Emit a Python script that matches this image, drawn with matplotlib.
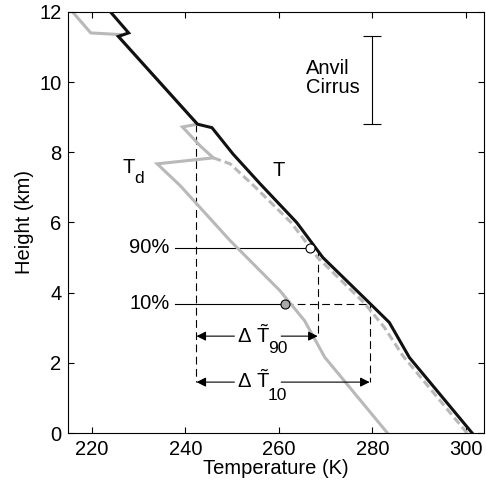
import matplotlib
matplotlib.use('Agg')
import matplotlib.pyplot as plt

plt.rcParams['font.family'] = ['Liberation Sans', 'DejaVu Sans']
plt.rcParams['mathtext.fontset'] = 'custom'
plt.rcParams['mathtext.rm'] = 'Liberation Sans'
plt.rcParams['mathtext.it'] = 'Liberation Sans'

# temperature profile T (K) vs height (km)
t_height = [0, 2.15, 3.15, 3.7, 5.0, 6.0, 7.1, 7.95, 8.7, 8.8, 11.3, 11.4, 12]
t_temp = [301.3, 287.9, 283.6, 279.4, 269.4, 263.8, 256.0, 250.2, 245.7, 242.6, 225.7, 227.9, 224.0]

# dew point Td
td_height = [0, 2.16, 3.2, 4.06, 5.48, 7.05, 7.67, 7.84, 8.18, 8.72, 8.8, 11.3, 11.35, 11.4, 12]
td_temp = [283.2, 269.8, 265.5, 260.2, 249.6, 238.9, 234.0, 246.0, 243.2, 239.4, 242.6, 225.7, 226.5, 219.8, 215.9]

# dashed reference profile
ad_height = [0, 2.2, 3.0, 3.7, 5.0, 6.0, 7.0, 7.67, 7.84]
ad_temp = [300.2, 286.5, 282.6, 278.3, 268.3, 262.6, 255.0, 249.6, 246.0]

# levels
cloud_base = 8.8
cloud_top = 11.3
t_base = 242.4
z90, t90_circle, t90 = 5.28, 266.6, 268.3
z10, t10_circle, t10 = 3.69, 261.3, 279.4
arrow90_z, arrow10_z = 2.76, 1.45

fs = 14.5
fig = plt.figure(figsize=(4.86, 4.88), dpi=100)
ax = fig.add_axes([0.1405, 0.1127, 0.855, 0.863])

gray = '#b9b9b9'
ax.plot(td_temp, td_height, color=gray, lw=2.2, zorder=2, solid_joinstyle='miter')
ax.plot(ad_temp, ad_height, color=gray, lw=2.2, dashes=(2.6, 1.3), zorder=2)
ax.plot(t_temp, t_height, color='#111111', lw=2.2, zorder=3, solid_joinstyle='miter')

dk = dict(color='k', lw=0.8, dashes=(7, 4), zorder=1)
ax.plot([t_base, t_base], [cloud_base, arrow10_z], **dk)
ax.plot([t90, t90], [5.15, arrow90_z], **dk)
ax.plot([t10, t10], [z10, arrow10_z], **dk)
ax.plot([t10_circle, t10], [z10, z10], **dk)

ax.plot([237.9, t90_circle], [z90, z90], color='k', lw=0.8, zorder=1)
ax.plot([237.9, t10_circle], [z10, z10], color='k', lw=0.8, zorder=1)
ax.plot([t90_circle], [z90], 'o', ms=6.5, mfc='white', mec='k', mew=0.8, zorder=4)
ax.plot([t10_circle], [z10], 'o', ms=6.5, mfc='#a8a8a8', mec='k', mew=0.8, zorder=4)

arr = dict(arrowstyle='-|>', lw=0.8, color='k', shrinkA=0, shrinkB=0, mutation_scale=14)
ax.annotate('', xy=(t_base, arrow90_z), xytext=(250.5, arrow90_z), arrowprops=arr)
ax.annotate('', xy=(t90, arrow90_z), xytext=(260.5, arrow90_z), arrowprops=arr)
ax.annotate('', xy=(t_base, arrow10_z), xytext=(250.5, arrow10_z), arrowprops=arr)
ax.annotate('', xy=(t10, arrow10_z), xytext=(260.5, arrow10_z), arrowprops=arr)
ax.text(251.0, arrow90_z - 0.2, r'$\Delta\ \tilde{\mathrm{T}}$', fontsize=fs, va='baseline')
ax.text(257.6, 2.27, '90', fontsize=12.5, va='baseline')
ax.text(251.0, arrow10_z - 0.17, r'$\Delta\ \tilde{\mathrm{T}}$', fontsize=fs, va='baseline')
ax.text(257.6, 0.94, '10', fontsize=12.5, va='baseline')

ax.text(236.7, z90, '90%', fontsize=fs, ha='right', va='center')
ax.text(236.7, z10, '10%', fontsize=fs, ha='right', va='center')
ax.text(226.6, 7.42, 'T', fontsize=fs, va='baseline')
ax.text(229.2, 7.11, 'd', fontsize=12.5, va='baseline')
ax.text(260.0, 7.31, 'T', fontsize=fs, ha='center', va='baseline')

ax.errorbar([280], [(cloud_base + cloud_top) / 2], yerr=[(cloud_top - cloud_base) / 2],
            color='k', lw=0.8, capsize=6.8, capthick=0.8)
ax.text(265.8, 10.12, 'Anvil\nCirrus', fontsize=fs, va='center', linespacing=1.0)

ax.set_xlim(215, 303.8)
ax.set_ylim(0, 12)
ax.set_xticks([220, 240, 260, 280, 300])
ax.set_yticks([0, 2, 4, 6, 8, 10, 12])
ax.tick_params(direction='in', top=True, right=True, labelsize=fs, length=4, pad=5)
ax.set_xlabel('Temperature (K)', fontsize=fs, labelpad=0)
ax.set_ylabel('Height (km)', fontsize=fs, labelpad=4)

fig.savefig('out.png', dpi=100)
